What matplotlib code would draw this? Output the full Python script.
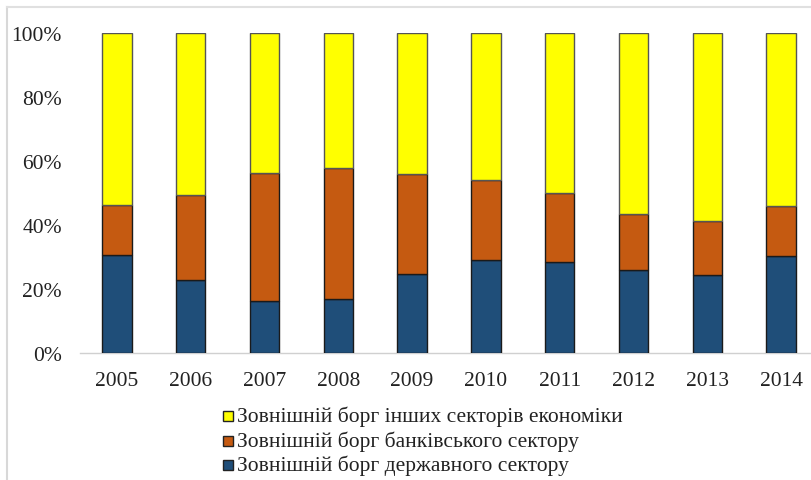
import matplotlib.pyplot as plt
import matplotlib.ticker as ticker
from matplotlib.patches import Rectangle
from matplotlib.lines import Line2D
import numpy as np

years = ['2005', '2006', '2007', '2008', '2009', '2010', '2011', '2012', '2013', '2014']
# shares, %
derzh = [30.6, 22.8, 16.3, 16.8, 24.6, 29.1, 28.3, 25.9, 24.3, 30.4]
bank = [15.6, 26.6, 39.8, 41.0, 31.2, 24.9, 21.8, 17.5, 17.1, 15.5]
inshi = [53.8, 50.6, 43.9, 42.2, 44.2, 46.0, 49.9, 56.6, 58.6, 54.1]

names = ['Зовнішній борг інших секторів економіки',
         'Зовнішній борг банківського сектору',
         'Зовнішній борг державного сектору']
colors = ['#FFFF00', '#C55A11', '#1F4E79']

plt.rcParams['font.family'] = ['Liberation Serif', 'DejaVu Serif']

fig = plt.figure(figsize=(8.12, 4.81), dpi=100)
W, H = 812, 481
ax = fig.add_axes([80 / W, (H - 354) / H, 738 / W, 320 / H])

x = np.arange(len(years))
d = np.array(derzh) / 100
b = np.array(bank) / 100
o = np.array(inshi) / 100
bw = 0.4
ax.bar(x, d, bw, color=colors[2], edgecolor='#1a1a1a', linewidth=1, zorder=3)
ax.bar(x, b, bw, bottom=d, color=colors[1], edgecolor='#1a1a1a', linewidth=1, zorder=3)
ax.bar(x, o, bw, bottom=d + b, color=colors[0], edgecolor='#555555', linewidth=1, zorder=3)

ax.set_xlim(-0.5, len(years) - 0.5)
ax.set_ylim(0, 1)
ax.yaxis.set_major_locator(ticker.MultipleLocator(0.2))
ax.yaxis.set_major_formatter(ticker.PercentFormatter(1.0, decimals=0))
ax.set_xticks(x)
ax.set_xticklabels(years)
ax.tick_params(axis='both', length=0, labelsize=15.5, colors='#222222')
ax.tick_params(axis='y', pad=13)
ax.tick_params(axis='x', pad=13)
for s in ['top', 'right', 'left']:
    ax.spines[s].set_visible(False)
ax.spines['bottom'].set_color('#d0d0d0')
ax.spines['bottom'].set_linewidth(1)

# legend, drawn by hand to match the stacked order
ys = [417, 442, 466]
for i in range(3):
    fig.patches.append(Rectangle((223 / W, (H - ys[i] - 5) / H), 10 / W, 10 / H,
                                 transform=fig.transFigure, facecolor=colors[i],
                                 edgecolor='#222222', linewidth=1))
    fig.text(237 / W, (H - ys[i]) / H, names[i], fontsize=15.5, va='center',
             ha='left', color='#222222')

# frame lines of the original picture
fig.add_artist(Line2D([7 / W, 7 / W], [0, (H - 8) / H], color='#d8d8d8', lw=1.5,
                      transform=fig.transFigure))
fig.add_artist(Line2D([7 / W, 1], [(H - 8) / H, (H - 8) / H], color='#e0e0e0', lw=1.5,
                      transform=fig.transFigure))

plt.savefig('out.png', dpi=100)
